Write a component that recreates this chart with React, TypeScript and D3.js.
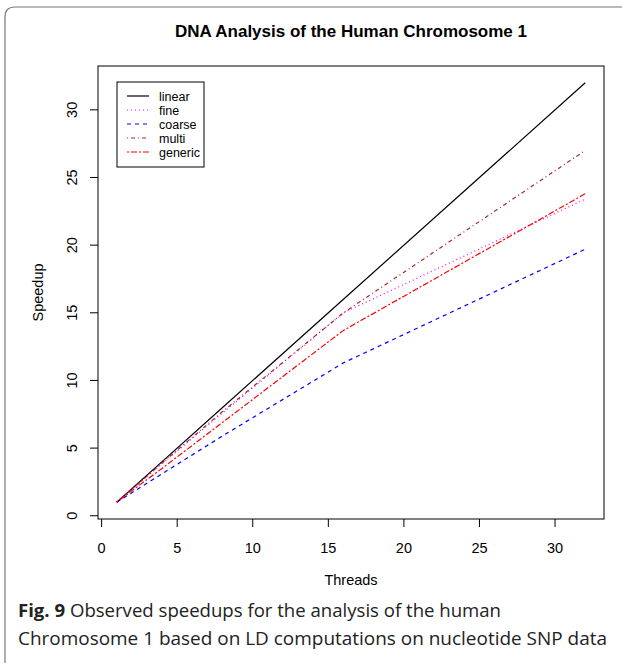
import React from "react";
import * as d3 from "d3";

const threads = [1, 2, 4, 8, 16, 32];
const linear = [1, 2, 4, 8, 16, 32];
const fine = [1, 1.95, 3.85, 7.6, 15.0, 23.4];
const coarse = [1, 1.7, 3.1, 5.9, 11.3, 19.7];
const multi = [1, 1.95, 3.9, 7.7, 15.0, 27.0];
const generic = [1, 1.85, 3.5, 6.9, 13.7, 23.8];

const seriesNames = ["linear", "fine", "coarse", "multi", "generic"];
const seriesValues = [linear, fine, coarse, multi, generic];
const seriesColors = ["#000000", "#FF00FF", "#0000FF", "#A52A2A", "#FF0000"];
const seriesDash = ["", "1,3", "4,4", "1,3,4,3", "2,2,6,2"];

const xTicks = [0, 5, 10, 15, 20, 25, 30];
const yTicks = [0, 5, 10, 15, 20, 25, 30];

export default function App() {
  const W = 622, H = 663;
  const left = 98, right = 604, top = 66, bottom = 519;
  const x = d3.scaleLinear().domain([-0.24, 33.24]).range([left, right]);
  const y = d3.scaleLinear().domain([-0.24, 33.24]).range([bottom, top]);
  const line = d3.line<number>().x((_, i) => x(threads[i])).y((d) => y(d));
  const font = "'Liberation Sans', Arial, sans-serif";
  const cx = (left + right) / 2;
  const legX = 117, legY = 82;
  return (
    <svg width={W} height={H} style={{ position: "absolute", left: 0, top: 0 }} fontFamily={font}>
      <rect x={0} y={0} width={W} height={H} fill="#fff" />
      <path d={`M5,${H + 5} L5,17 Q5,7 15,7 L${W + 5},7`} fill="none" stroke="#777" strokeWidth={1.2} />
      <text x={cx} y={37} textAnchor="middle" fontWeight="bold" fontSize={17}>
        DNA Analysis of the Human Chromosome 1
      </text>
      <rect x={left} y={top} width={right - left} height={bottom - top} fill="none" stroke="#000" strokeWidth={1} />
      {xTicks.map((t) => (
        <g key={"x" + t}>
          <line x1={x(t)} x2={x(t)} y1={bottom} y2={bottom + 8} stroke="#000" />
          <text x={x(t)} y={bottom + 34} textAnchor="middle" fontSize={14.5}>{t}</text>
        </g>
      ))}
      {yTicks.map((t) => (
        <g key={"y" + t}>
          <line x1={left - 8} x2={left} y1={y(t)} y2={y(t)} stroke="#000" />
          <text transform={`translate(${left - 21},${y(t)}) rotate(-90)`} textAnchor="middle" fontSize={14.5}>{t}</text>
        </g>
      ))}
      <text x={cx} y={585} textAnchor="middle" fontSize={14.5}>Threads</text>
      <text transform={`translate(43,${(top + bottom) / 2}) rotate(-90)`} textAnchor="middle" fontSize={14.5}>Speedup</text>
      {seriesValues.map((vals, i) => (
        <path key={seriesNames[i]} d={line(vals) || ""} fill="none" stroke={seriesColors[i]} strokeWidth={1.2} strokeDasharray={seriesDash[i]} />
      ))}
      <rect x={legX} y={legY} width={87} height={85} fill="#fff" stroke="#000" strokeWidth={1} />
      {seriesNames.map((n, i) => (
        <g key={"l" + n}>
          <line x1={legX + 10} x2={legX + 32} y1={legY + 14 + i * 14} y2={legY + 14 + i * 14} stroke={seriesColors[i]} strokeWidth={1.2} strokeDasharray={seriesDash[i]} />
          <text x={legX + 42} y={legY + 14 + i * 14 + 4.5} fontSize={12.5}>{n}</text>
        </g>
      ))}
      <text x={18} y={617} fontFamily="'Open Sans', sans-serif" fontSize={18} fill="#222" textLength={483} lengthAdjust="spacingAndGlyphs">
        <tspan fontWeight="bold">Fig. 9</tspan> Observed speedups for the analysis of the human
      </text>
      <text x={18} y={645} fontFamily="'Open Sans', sans-serif" fontSize={18} fill="#222" textLength={589} lengthAdjust="spacingAndGlyphs">
        Chromosome 1 based on LD computations on nucleotide SNP data
      </text>
    </svg>
  );
}
